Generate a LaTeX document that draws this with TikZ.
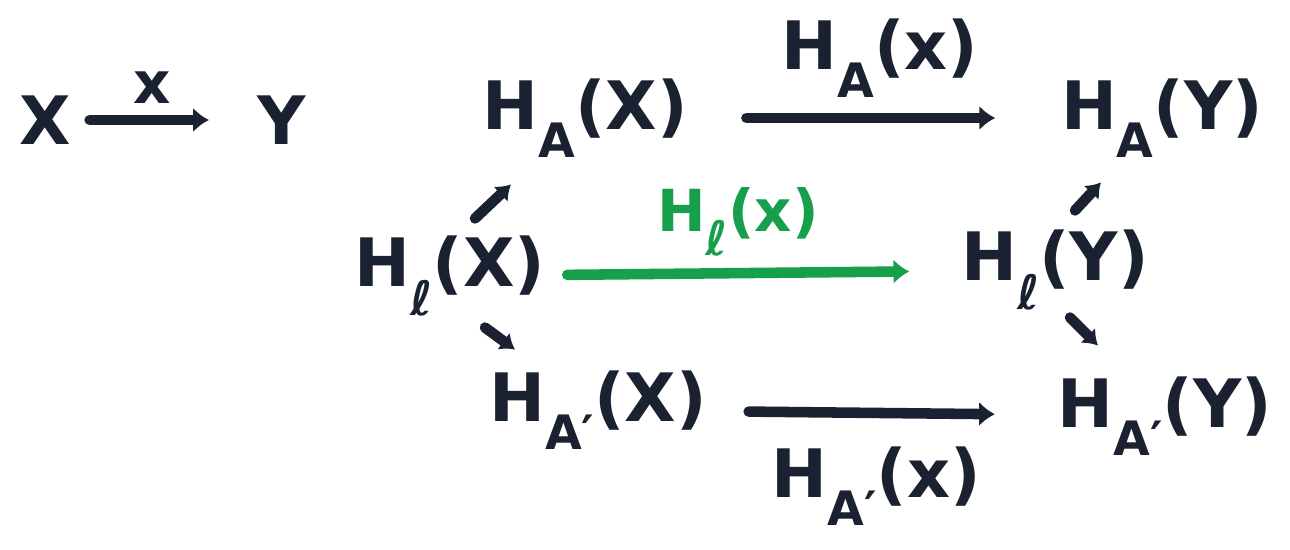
\documentclass[tikz,border=0pt]{standalone}
\usepackage{fontspec}
\setmainfont{DejaVu Sans}
\usetikzlibrary{arrows.meta}
\definecolor{ink}{HTML}{1A2130}
\definecolor{greenink}{HTML}{17A04C}
\newcommand{\lowr}[1]{\raisebox{-0.42em}{\fontsize{27}{27}\selectfont #1}}
\tikzset{
  lbl/.style={font=\fontsize{38}{42}\selectfont\bfseries, text=ink, inner sep=2pt},
  small/.style={font=\fontsize{33}{37}\selectfont\bfseries},
  mor/.style={draw=ink, line width=6pt, line cap=round, -{Latex[length=9pt,width=14pt]}},
  inc/.style={draw=ink, line width=6pt, line cap=round, -{Latex[length=8pt,width=12pt]}}
}
\begin{document}
\begin{tikzpicture}[x=0.02cm,y=-0.02cm]
  \useasboundingbox[fill=white] (0,0) rectangle (1290,550);

  % the map on its own
  \node[lbl] (X) at (45,120) {X};
  \node[lbl] (Y) at (282,120) {Y};
  \node[lbl,small] (x) at (152,88) {x};
  \draw[mor, shorten <=0.3cm, shorten >=0.9cm] (X) -- (Y);

  % left column
  \node[lbl] (haX) at (585,118) {H\lowr{A}(X)};
  \node[lbl] (hlX) at (450,276) {H\lowr{ℓ}(X)};
  \node[lbl] (hbX) at (598,410) {H\lowr{A′}(X)};

  % right column
  \node[lbl] (haY) at (1162,118) {H\lowr{A}(Y)};
  \node[lbl] (hlY) at (1055,270) {H\lowr{ℓ}(Y)};
  \node[lbl] (hbY) at (1165,416) {H\lowr{A′}(Y)};

  % inclusions
  \draw[inc] (hlX.north) ++(25,-14) coordinate (a1) -- ++(36,-34) coordinate (a2);
  \draw[inc] (hlX.south) ++(35,8) coordinate (b1) -- ++(30,22) coordinate (b2);
  \draw[inc] (hlY.north) ++(20,-16) coordinate (c1) -- ++(26,-28) coordinate (c2);
  \draw[inc] (hlY.south) ++(15,4) coordinate (d1) -- ++(28,28) coordinate (d2);

  % induced maps
  \node[lbl] (hax) at (880,58) {H\lowr{A}(x)};
  \node[lbl,small,text=greenink] (hlx) at (738,222) {H\lowr{ℓ}(x)};
  \node[lbl] (hbx) at (876,486) {H\lowr{A′}(x)};
  \draw[mor, shorten <=1.1cm, shorten >=1.24cm] (haX) -- (haY);
  \draw[mor, draw=greenink, shorten <=0.36cm, shorten >=0.96cm] (hlX) -- (hlY);
  \draw[mor, shorten <=0.76cm, shorten >=1.18cm] (hbX) -- (hbY);
\end{tikzpicture}
\end{document}
